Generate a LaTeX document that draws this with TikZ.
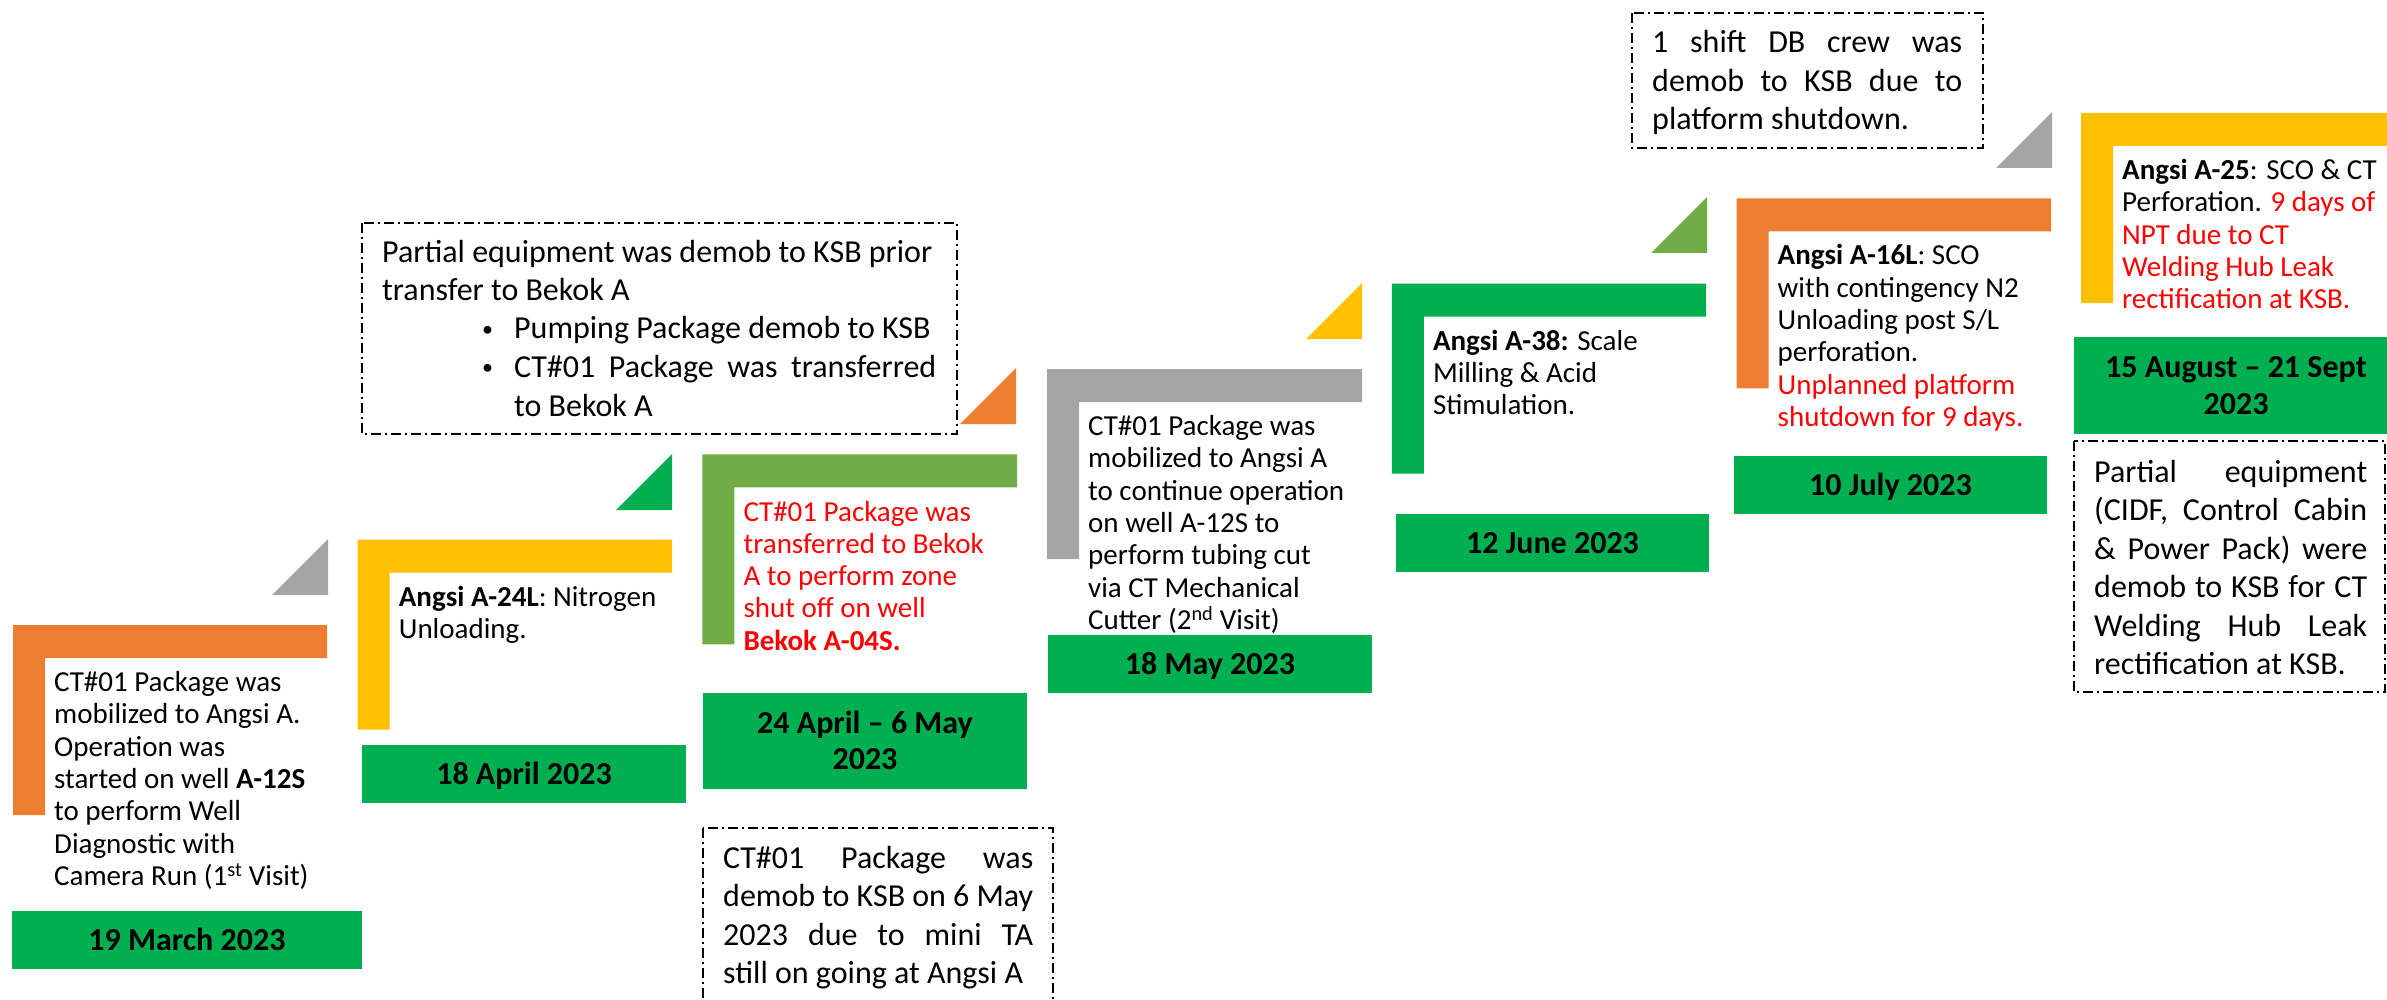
\documentclass[tikz,border=0pt]{standalone}
\usepackage{fontspec}
\setmainfont{Carlito}
\usetikzlibrary{calc}

\definecolor{cOrange}{HTML}{ED7D31}
\definecolor{cYellow}{HTML}{FFC000}
\definecolor{cGray}{HTML}{A5A5A5}
\definecolor{cLeaf}{HTML}{70AD47}
\definecolor{cGreen}{HTML}{00B050}
\definecolor{cRed}{HTML}{FF0000}

% L-shaped corner bracket: colour, left, top, right
\newcommand\ellbar[4]{%
  \fill[#1] (#2,#3) -- (#4,#3) -- (#4,#3+33) -- (#2+32,#3+33)
            -- (#2+32,#3+190) -- (#2,#3+190) -- cycle;}
% small right triangle: colour, right edge, bottom edge
\newcommand\wedgemark[3]{%
  \fill[#1] (#2,#3) -- (#2,#3-56) -- (#2-56,#3) -- cycle;}
\newcommand\redtxt[1]{\textcolor{cRed}{#1}}
\newcommand\jline[1]{\makebox[\linewidth][s]{#1}}
\newcommand\smallbullet{\raisebox{3pt}{\fontsize{22}{22}\selectfont\textbullet}}

\tikzset{
  datebox/.style={fill=cGreen, draw=none, inner sep=0pt, outer sep=0pt, anchor=north west},
  datelbl/.style={anchor=base, inner sep=0pt, font=\fontsize{32}{36.5}\selectfont\bfseries},
  ltext/.style={anchor=base west, inner sep=0pt, font=\fontsize{29}{32.3}\selectfont},
  ntext/.style={anchor=base west, inner sep=0pt, font=\fontsize{32}{38.5}\selectfont},
  notebox/.style={draw=black, line width=2pt, dash pattern=on 10pt off 4pt on 2pt off 4pt},
}

\begin{document}
\begin{tikzpicture}[x=1pt,y=-1pt]
\useasboundingbox (0,0) rectangle (2387,1000);
\clip (0,0) rectangle (2387,1000);

% stair of corner brackets
\ellbar{cOrange}{13}{625}{327}
\ellbar{cYellow}{357.7}{539.7}{672}
\ellbar{cLeaf}{702.4}{454.3}{1017}
\ellbar{cGray}{1047.1}{369}{1362}
\ellbar{cGreen}{1391.8}{283.7}{1706}
\ellbar{cOrange}{1736.5}{198.3}{2051}
\ellbar{cYellow}{2081.2}{113}{2400}

% step triangles
\wedgemark{cGray}{328}{595}
\wedgemark{cGreen}{672}{510}
\wedgemark{cOrange}{1016}{424}
\wedgemark{cYellow}{1362}{339}
\wedgemark{cLeaf}{1707}{253}
\wedgemark{cGray}{2052}{168}

% date bars
\node[datebox, minimum width=350pt, minimum height=58pt] (d1) at (12,911) {};
\node[datebox, minimum width=324pt, minimum height=58pt] (d2) at (362,745) {};
\node[datebox, minimum width=324pt, minimum height=96pt] (d3) at (703,693) {};
\node[datebox, minimum width=324pt, minimum height=58pt] (d4) at (1048,635) {};
\node[datebox, minimum width=313pt, minimum height=58pt] (d5) at (1396,514) {};
\node[datebox, minimum width=313pt, minimum height=58pt] (d6) at (1734,456) {};
\node[datebox, minimum width=324pt, minimum height=97pt] (d7) at (2074,337) {};

\node[datelbl] (d1t) at ($(d1.center)+(0,10.3)$) {19 March 2023};
\node[datelbl] (d2t) at ($(d2.center)+(0,10.3)$) {18 April 2023};
\node[datelbl] (d3t) at ($(d3.center)+(0,-7.95)$) {\parbox[t]{320pt}{\centering 24 April -- 6 May\\2023}};
\node[datelbl] (d4t) at ($(d4.center)+(0,10.3)$) {18 May 2023};
\node[datelbl] (d5t) at ($(d5.center)+(0,10.3)$) {12 June 2023};
\node[datelbl] (d6t) at ($(d6.center)+(0,10.3)$) {10 July 2023};
\node[datelbl] (d7t) at ($(d7.center)+(0,-7.95)$) {\parbox[t]{320pt}{\centering 15 August -- 21 Sept\\2023}};

% activity descriptions
\node[ltext] (t1) at (54,691.5) {\parbox[t]{300pt}{\raggedright
  CT\#01 Package was\\mobilized to Angsi A.\\Operation was\\started on well \textbf{A-12S}\\to perform Well\\Diagnostic with\\Camera Run (1\textsuperscript{st} Visit)}};
\node[ltext] (t2) at (398.7,606) {\parbox[t]{300pt}{\raggedright
  \textbf{Angsi A-24L}: Nitrogen\\Unloading.}};
\node[ltext, text=cRed] (t3) at (743.4,521) {\parbox[t]{300pt}{\raggedright
  CT\#01 Package was\\transferred to Bekok\\A to perform zone\\shut off on well\\\textbf{Bekok A-04S.}}};
\node[ltext] (t4) at (1088,435.5) {\parbox[t]{300pt}{\raggedright
  CT\#01 Package was\\mobilized to Angsi A\\to continue operation\\on well A-12S to\\perform tubing cut\\via CT Mechanical\\Cutter (2\textsuperscript{nd} Visit)}};
\node[ltext] (t5) at (1432.8,350) {\parbox[t]{300pt}{\raggedright
  \textbf{Angsi A-38:} Scale\\Milling \& Acid\\Stimulation.}};
\node[ltext] (t6) at (1777.5,265) {\parbox[t]{300pt}{\raggedright
  \textbf{Angsi A-16L}: SCO\\with contingency N2\\Unloading post S/L\\perforation.\\\redtxt{Unplanned platform}\\\redtxt{shutdown for 9 days.}}};
\node[ltext] (t7) at (2122,179.5) {\parbox[t]{300pt}{\raggedright
  \textbf{Angsi A-25}: SCO \& CT\\Perforation. \redtxt{9 days of}\\\redtxt{NPT due to CT}\\\redtxt{Welding Hub Leak}\\\redtxt{rectification at KSB.}}};

% dash-dot note frames
\draw[notebox] (362,223) rectangle (957,434);
\draw[notebox] (703,827.5) rectangle (1053,1015);
\draw[notebox] (1632,13) rectangle (1983,148);
\draw[notebox] (2074,441) rectangle (2385,692);

\node[ntext] (nA) at (382,262) {\parbox[t]{600pt}{\raggedright
  Partial equipment was demob to KSB prior\\transfer to Bekok A\\
  \hspace*{100pt}\makebox[32pt][l]{\smallbullet}Pumping Package demob to KSB\\
  \hspace*{100pt}\makebox[32pt][l]{\smallbullet}\makebox[422pt][s]{CT\#01 Package was transferred}\\
  \hspace*{132pt}to Bekok A}};
\node[ntext] (nB) at (723,868) {\parbox[t]{310pt}{\raggedright
  \jline{CT\#01 Package was}\\\jline{demob to KSB on 6 May}\\\jline{2023 due to mini TA}\\still on going at Angsi A}};
\node[ntext] (nC) at (1652,53) {\parbox[t]{310pt}{\raggedright
  \jline{1 shift DB crew was}\\\jline{demob to KSB due to}\\platform shutdown.}};
\node[ntext] (nD) at (2094,482) {\parbox[t]{273pt}{\raggedright
  \jline{Partial equipment}\\\jline{(CIDF, Control Cabin}\\\jline{\& Power Pack) were}\\\jline{demob to KSB for CT}\\\jline{Welding Hub Leak}\\rectification at KSB.}};
\end{tikzpicture}
\end{document}
